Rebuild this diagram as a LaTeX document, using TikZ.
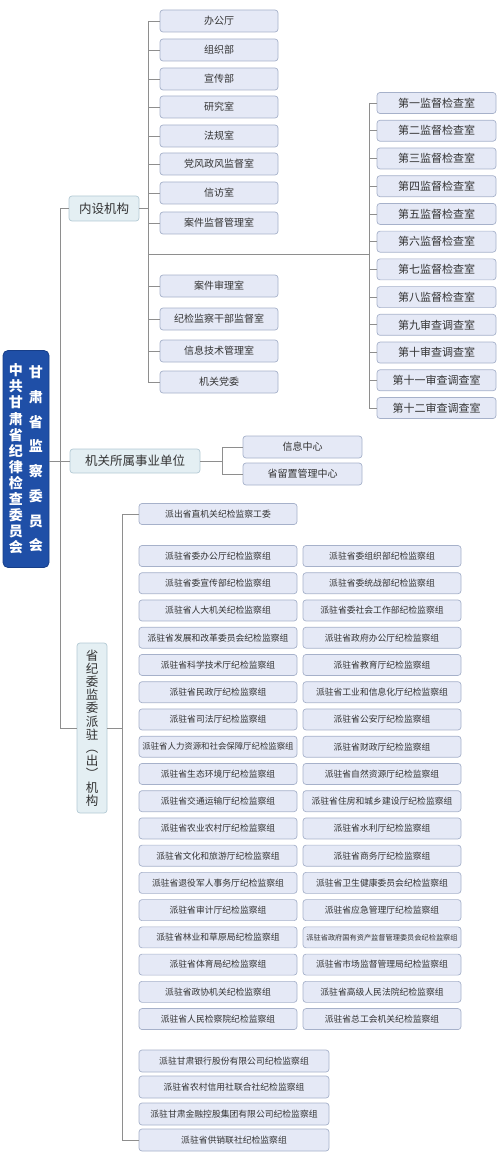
\documentclass[tikz,border=0pt]{standalone}
\usepackage{fontspec}
\setmainfont{Noto Sans CJK SC}
\usetikzlibrary{positioning}

\definecolor{rootfill}{HTML}{1F4FA7}
\definecolor{rootline}{HTML}{173E88}
\definecolor{catfill}{HTML}{E4EFF3}
\definecolor{catline}{HTML}{B3CAD4}
\definecolor{leaffill}{HTML}{E5E9F6}
\definecolor{leafline}{HTML}{A6B1CA}
\definecolor{linkgray}{HTML}{8E8E8E}
\definecolor{txtgray}{HTML}{333333}

\newcommand\fitsize[2]{{\fontsize{#1}{#1}\selectfont #2}}

\tikzset{
  rootbox/.style={draw=rootline, fill=rootfill, rounded corners=5pt, line width=0.8pt,
    text=white, font=\bfseries, inner sep=0pt, minimum width=46pt, minimum height=217pt},
  catbox/.style={draw=catline, fill=catfill, rounded corners=3pt, line width=0.7pt,
    text=txtgray, inner sep=0pt, font=\fontsize{12.5}{13.2}\selectfont},
  leaf/.style={draw=leafline, fill=leaffill, rounded corners=3pt, line width=0.7pt,
    text=txtgray, inner sep=0pt, minimum height=22pt},
  nsleaf/.style={leaf, minimum width=118pt, font=\fontsize{10}{10}\selectfont},
  jcleaf/.style={leaf, minimum width=119pt, minimum height=21pt, font=\fontsize{11}{11}\selectfont},
  syleaf/.style={leaf, minimum width=119pt, font=\fontsize{10}{10}\selectfont},
  pzleaf/.style={leaf, minimum width=158pt, minimum height=21pt, font=\fontsize{8.8}{8.8}\selectfont},
  qyleaf/.style={leaf, minimum width=190pt, font=\fontsize{8.8}{8.8}\selectfont},
  link/.style={draw=linkgray, line width=0.8pt}
}

\begin{document}
\begin{tikzpicture}[x=1pt,y=-1pt]
  \useasboundingbox (0,0) rectangle (500,1166);

  % root and the three branches
  \node[rootbox] (jwjw) at (26,459) {%
    \parbox[c]{15pt}{\centering\fontsize{14}{16.1}\selectfont 中\\共\\甘\\肃\\省\\纪\\律\\检\\查\\委\\员\\会}%
    \hspace{5pt}%
    \parbox[c]{15pt}{\centering\fontsize{14}{24.7}\selectfont 甘\\肃\\省\\监\\察\\委\\员\\会}};
  \node[catbox, minimum width=70pt, minimum height=25pt] (nsjg) at (104,208.5) {内设机构};
  \node[catbox, minimum width=130pt, minimum height=24pt] (jgsy) at (135,461) {机关所属事业单位};
  \node[catbox, minimum width=30pt, minimum height=170pt, align=center] (pzjg) at (92,728)
    {省\\纪\\委\\监\\委\\派\\驻\\︵\\出\\︶\\机\\构};

  % internal offices
  \foreach \yy/\t [count=\i] in {21/办公厅, 50/组织部, 79/宣传部, 107/研究室, 136/法规室,
      164/党风政风监督室, 193/信访室, 223/案件监督管理室, 286/案件审理室,
      319/纪检监察干部监督室, 351/信息技术管理室, 382/机关党委}
    \node[nsleaf] (ns\i) at (219,\yy) {\t};

  \foreach \t [count=\i] in {第一监督检查室, 第二监督检查室, 第三监督检查室, 第四监督检查室,
      第五监督检查室, 第六监督检查室, 第七监督检查室, 第八监督检查室,
      第九审查调查室, 第十审查调查室, 第十一审查调查室, 第十二审查调查室}
    \node[jcleaf] (jc\i) at (436.5,{103+(\i-1)*27.73}) {\t};

  % affiliated units
  \node[syleaf] (sy1) at (302.5,447) {信息中心};
  \node[syleaf] (sy2) at (302.5,474) {省留置管理中心};

  % stationed groups
  \node[pzleaf] (pczw) at (218,514) {派出省直机关纪检监察工委};
  \foreach \l/\r [count=\i] in {
      派驻省委办公厅纪检监察组/派驻省委组织部纪检监察组,
      派驻省委宣传部纪检监察组/派驻省委统战部纪检监察组,
      派驻省人大机关纪检监察组/派驻省委社会工作部纪检监察组,
      派驻省发展和改革委员会纪检监察组/派驻省政府办公厅纪检监察组,
      派驻省科学技术厅纪检监察组/派驻省教育厅纪检监察组,
      派驻省民政厅纪检监察组/派驻省工业和信息化厅纪检监察组,
      派驻省司法厅纪检监察组/派驻省公安厅纪检监察组,
      {\fitsize{8.4}{派驻省人力资源和社会保障厅纪检监察组}}/派驻省财政厅纪检监察组,
      派驻省生态环境厅纪检监察组/派驻省自然资源厅纪检监察组,
      派驻省交通运输厅纪检监察组/派驻省住房和城乡建设厅纪检监察组,
      派驻省农业农村厅纪检监察组/派驻省水利厅纪检监察组,
      派驻省文化和旅游厅纪检监察组/派驻省商务厅纪检监察组,
      派驻省退役军人事务厅纪检监察组/派驻省卫生健康委员会纪检监察组,
      派驻省审计厅纪检监察组/派驻省应急管理厅纪检监察组,
      派驻省林业和草原局纪检监察组/{\fitsize{7.2}{派驻省政府国有资产监督管理委员会纪检监察组}},
      派驻省体育局纪检监察组/派驻省市场监督管理局纪检监察组,
      派驻省政协机关纪检监察组/派驻省高级人民法院纪检监察组,
      派驻省人民检察院纪检监察组/派驻省总工会机关纪检监察组} {
    \node[pzleaf] (pzl\i) at (218,{556+(\i-1)*27.24}) {\l};
    \node[pzleaf] (pzr\i) at (382,{556+(\i-1)*27.24}) {\r};
  }

  \foreach \yy/\t [count=\i] in {1061/派驻甘肃银行股份有限公司纪检监察组,
      1087/派驻省农村信用社联合社纪检监察组,
      1114/派驻甘肃金融控股集团有限公司纪检监察组,
      1140/派驻省供销联社纪检监察组}
    \node[qyleaf] (qy\i) at (234,\yy) {\t};

  % connectors
  \coordinate (trunk) at (60,0);
  \coordinate (bus1) at (148,0);
  \coordinate (bus2) at (369,0);
  \coordinate (bus3) at (122,0);
  \coordinate (bus4) at (222,0);
  \coordinate (jct) at (148,254);

  \draw[link] (jwjw.east |- jgsy) -- (jgsy.west);
  \draw[link] (nsjg.west) -- (trunk |- nsjg) -- (trunk |- pzjg) -- (pzjg.west);
  \draw[link] (pzjg.east) -- (bus3 |- pzjg);

  \draw[link] (nsjg.east) -- (bus1 |- nsjg);
  \draw[link] (bus1 |- ns1) -- (bus1 |- ns12);
  \foreach \i in {1,...,12}
    \draw[link] (bus1 |- ns\i) -- (ns\i.west);
  \draw[link] (jct) -- (bus2 |- jct);
  \draw[link] (bus2 |- jc1) -- (bus2 |- jc12);
  \foreach \i in {1,...,12}
    \draw[link] (bus2 |- jc\i) -- (jc\i.west);

  \draw[link] (jgsy.east) -- (bus4 |- jgsy);
  \draw[link] (bus4 |- sy1) -- (sy1.west);
  \draw[link] (bus4 |- sy2) -- (sy2.west);
  \draw[link] (bus4 |- sy1) -- (bus4 |- sy2);

  \draw[link] (pczw.west) -- (bus3 |- pczw) -- (bus3 |- qy4) -- (qy4.west);
\end{tikzpicture}
\end{document}
